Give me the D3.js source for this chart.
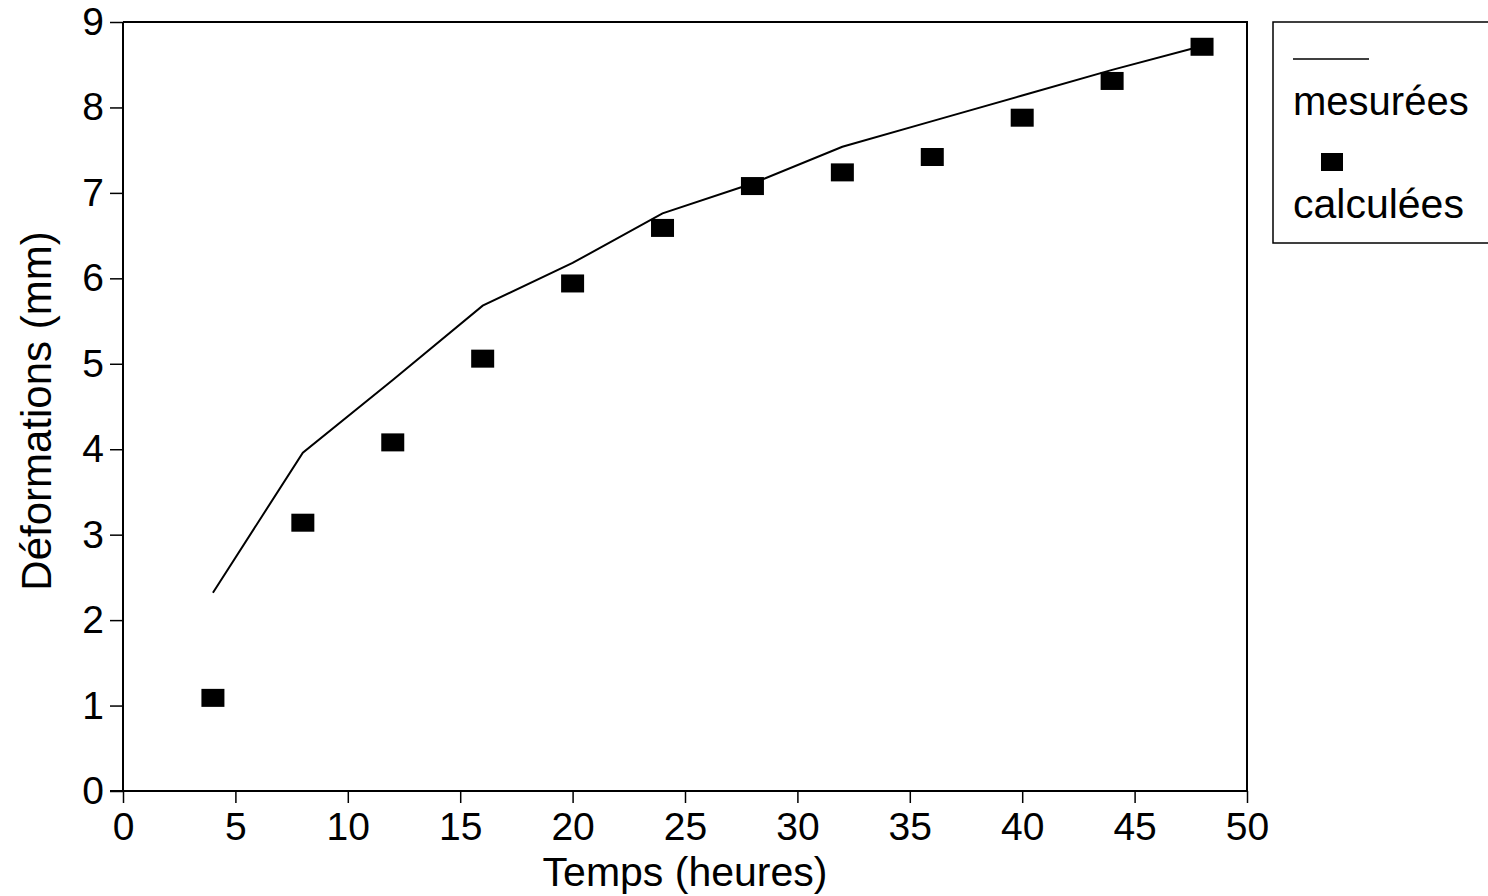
<!DOCTYPE html>
<html>
<head>
<meta charset="utf-8">
<script src="https://cdn.jsdelivr.net/npm/d3@7"></script>
<style>
  html, body { margin: 0; padding: 0; background: #fff; }
  svg { display: block; }
  text { font-family: "Liberation Sans", Arial, Helvetica, sans-serif; fill: #000; }
</style>
</head>
<body>
<svg id="chart" width="1488" height="896"></svg>
<script>
// ---- data ----
const temps = [4, 8, 12, 16, 20, 24, 28, 32, 36, 40, 44, 48];
const mesurees = [2.32, 3.96, 4.81, 5.68, 6.18, 6.76, 7.11, 7.54, 7.84, 8.14, 8.44, 8.72];
const calculees = [1.09, 3.14, 4.08, 5.06, 5.94, 6.59, 7.08, 7.24, 7.42, 7.88, 8.31, 8.71];
const xTicks = [0, 5, 10, 15, 20, 25, 30, 35, 40, 45, 50];
const yTicks = [0, 1, 2, 3, 4, 5, 6, 7, 8, 9];
const xTitle = "Temps (heures)";
const yTitle = "Déformations (mm)";
const legendLabels = ["mesurées", "calculées"];

// ---- layout ----
const mLeft = 123, mRight = 1247, mTop = 22, mBottom = 791;
const svg = d3.select("#chart");

const x = d3.scaleLinear().domain([0, 50]).range([mLeft, mRight]);
const y = d3.scaleLinear().domain([0, 9]).range([mBottom, mTop]);

// frame (top & right)
svg.append("path")
  .attr("d", `M${mLeft},${mTop}H${mRight}V${mBottom}`)
  .attr("fill", "none").attr("stroke", "#000").attr("stroke-width", 2);

// x axis
const gx = svg.append("g").attr("transform", `translate(0,${mBottom})`)
  .call(d3.axisBottom(x).tickValues(xTicks).tickSize(12).tickPadding(9).tickFormat(d3.format("d")));
gx.select(".domain").attr("stroke-width", 2).attr("d", `M${mLeft - 13},0H${mRight}`);
gx.selectAll(".tick line").attr("stroke-width", 1.5);
gx.selectAll(".tick text").attr("font-size", 39).attr("dy", "0.71em")
  .attr("font-family", "Liberation Sans, Arial, sans-serif");

// y axis
const gy = svg.append("g").attr("transform", `translate(${mLeft},0)`)
  .call(d3.axisLeft(y).tickValues(yTicks).tickSize(13).tickPadding(6).tickFormat(d3.format("d")));
gy.select(".domain").attr("stroke-width", 2).attr("d", `M0,${mTop}V${mBottom}`);
gy.selectAll(".tick line").attr("stroke-width", 1.5);
gy.selectAll(".tick text").attr("font-size", 39)
  .attr("font-family", "Liberation Sans, Arial, sans-serif");

// axis titles
svg.append("text").attr("x", (mLeft + mRight) / 2).attr("y", 886)
  .attr("text-anchor", "middle").attr("font-size", 41).text(xTitle);
svg.append("text").attr("transform", `translate(51,${411}) rotate(-90)`)
  .attr("text-anchor", "middle").attr("font-size", 42).text(yTitle);

// measured line
const line = d3.line().x((d, i) => x(temps[i])).y(d => y(d));
svg.append("path").datum(mesurees)
  .attr("d", line).attr("fill", "none").attr("stroke", "#000").attr("stroke-width", 2);

// calculated squares
const sw = 23, sh = 18;
svg.append("g").selectAll("rect").data(calculees).join("rect")
  .attr("x", (d, i) => x(temps[i]) - sw / 2)
  .attr("y", d => y(d) - sh / 2)
  .attr("width", sw).attr("height", sh).attr("fill", "#000");

// legend
const lg = svg.append("g");
lg.append("rect").attr("x", 1273).attr("y", 22).attr("width", 230).attr("height", 221)
  .attr("fill", "none").attr("stroke", "#000").attr("stroke-width", 1.5);
lg.append("line").attr("x1", 1293).attr("x2", 1369).attr("y1", 59).attr("y2", 59)
  .attr("stroke", "#000").attr("stroke-width", 1.5);
lg.append("text").attr("x", 1293).attr("y", 115).attr("font-size", 40).text(legendLabels[0]);
lg.append("rect").attr("x", 1321).attr("y", 153).attr("width", 22).attr("height", 18).attr("fill", "#000");
lg.append("text").attr("x", 1293).attr("y", 218).attr("font-size", 41).text(legendLabels[1]);
</script>
</body>
</html>
